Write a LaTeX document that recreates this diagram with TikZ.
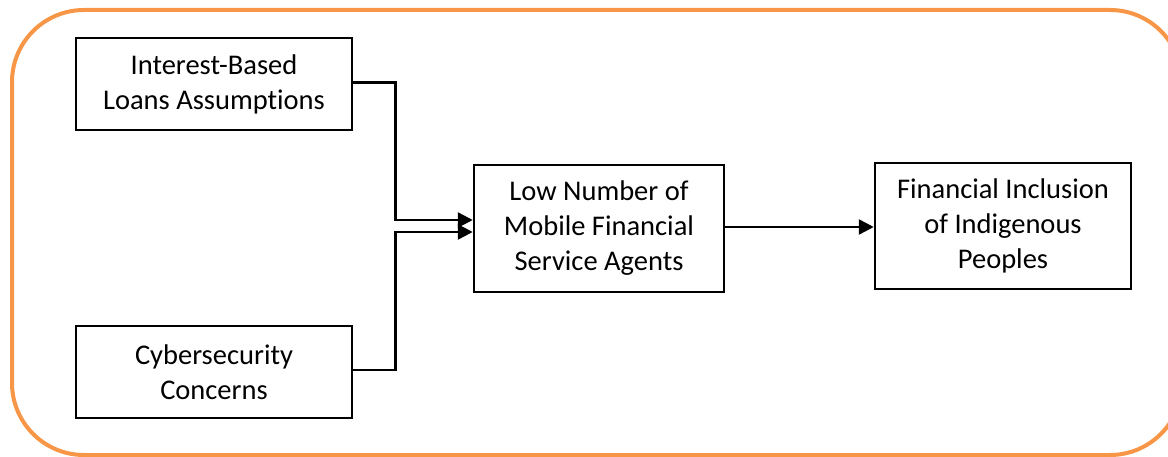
\documentclass[tikz,border=0pt]{standalone}
\usepackage{fontspec}
\setmainfont{Carlito}[Ligatures=NoCommon]
\usetikzlibrary{arrows.meta}
\definecolor{frameorange}{HTML}{F79646}
\begin{document}
\begin{tikzpicture}[x=1pt,y=-1pt,
  box/.style={draw=black,line width=2.5pt,align=center,inner sep=0pt,
    font=\fontsize{28.5}{35}\selectfont},
  conn/.style={line width=2.5pt,-{Triangle[length=15pt,width=15pt]}},
  link/.style={line width=2.5pt}]
\useasboundingbox (0,0) rectangle (1168,457);
\begin{scope}
\clip (0,0) rectangle (1168,457);
\draw[frameorange,line width=4pt,rounded corners=72pt] (12,10) rectangle (1182,455);
\end{scope}
\node[box,minimum width=276pt,minimum height=92pt] (b1) at (214,84) {Interest-Based\\Loans Assumptions};
\node[box,minimum width=276pt,minimum height=92pt] (b2) at (214,372) {Cybersecurity\\Concerns};
\node[box,minimum width=250pt,minimum height=127pt] (b3) at (599,228.5) {Low Number of\\Mobile Financial\\Service Agents};
\node[box,minimum width=256pt,minimum height=126pt] (b4) at (1003,226) {Financial Inclusion\\of Indigenous\\Peoples};
\coordinate (t1) at ([yshift=8.5pt]b3.west);
\coordinate (t2) at ([yshift=-3.5pt]b3.west);
\draw[conn] ([yshift=1.3pt]b1.east) -- ++(42,0) |- (t1);
\draw[conn] ([yshift=2pt]b2.east) -- ++(42,0) |- (t2);
\draw[conn] ([yshift=1.5pt]b3.east) -- ([yshift=1.5pt]b3.east -| b4.west);
\end{tikzpicture}
\end{document}
